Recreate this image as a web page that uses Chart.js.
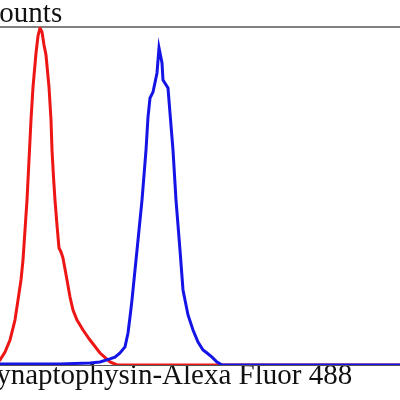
<!DOCTYPE html>
<html>
<head>
<meta charset="utf-8">
<title>Synaptophysin flow histogram</title>
<script src="https://cdn.jsdelivr.net/npm/chart.js@4.4.0/dist/chart.umd.min.js"></script>
<style>
    html, body { margin: 0; padding: 0; background: #fff; overflow: hidden; }
    #wrap { position: absolute; left: -20px; top: 0; width: 420px; height: 400px; }
</style>
</head>
<body>
<div id="wrap"><canvas id="histogram-chart"></canvas></div>
<script>
// --- Data (fluorescence channel vs counts) ---
const yAxisLabel = 'Counts';
const xAxisLabel = 'Synaptophysin-Alexa Fluor 488';

// isotype / negative control (red)
const redX = [0, 7, 10, 12.5, 15, 17.5, 19, 20.5, 21.5, 23.5, 24.5, 25.5, 26.5, 28, 29, 30,
    31, 32, 33, 34.5, 35.5, 36, 36.75, 37.5, 38.5, 39.5, 40.5, 41.5, 43.5, 45, 46.5, 48.5,
    51.5, 55, 60, 65, 68.5, 90, 130, 170, 210];
const redCounts = [0, 0, 3.0, 7.7, 14.8, 26.6, 38.5, 50.3, 62.1, 97.6, 121.3, 145.0, 164.5, 184.6, 194.7, 199.4,
    197.0, 189.3, 183.4, 164.5, 145.0, 127.2, 111.2, 97.6, 82.8, 69.2, 66.9, 63.3, 50.3, 40.2, 32.5, 26.6,
    20.7, 14.8, 7.1, 1.8, 0, 0, 0, 0, 0];

// Synaptophysin stained (blue)
const blueX = [0, 40, 55, 60, 65, 67.5, 70, 72.5, 74, 75, 76, 78.5, 81, 83, 84, 85, 86.5, 88.5, 89.5,
    91, 91.5, 94, 95, 96.5, 98, 100, 101.5, 102.5, 104, 106.5, 109, 111.5, 113.5, 116, 118.5, 121,
    150, 180, 210];
const blueCounts = [0.6, 0.6, 1.2, 1.8, 3.6, 4.7, 7.1, 10.7, 18.9, 28.4, 38.5, 68.0, 97.6, 127.2, 146.7, 158.0, 161.5, 172.8, 187.6,
    178.7, 168.6, 163.9, 149.1, 127.2, 97.6, 68.0, 44.4, 38.5, 29.6, 20.7, 13.6, 8.9, 7.1, 4.7, 1.8, 0,
    0, 0, 0];

const toPoints = (xs, ys) => xs.map((x, i) => ({ x: x, y: ys[i] }));

document.addEventListener('DOMContentLoaded', () => {
    const ctx = document.getElementById('histogram-chart').getContext('2d');
    const serif = { family: '"Liberation Serif", "Times New Roman", serif', size: 29, weight: 'normal', lineHeight: 1 };

    new Chart(ctx, {
        type: 'line',
        data: {
            datasets: [
                {
                    label: 'Control',
                    data: toPoints(redX, redCounts),
                    borderColor: '#ee1515',
                    borderWidth: 3,
                    pointRadius: 0,
                    tension: 0,
                    fill: false,
                    order: 1
                },
                {
                    label: 'Synaptophysin',
                    data: toPoints(blueX, blueCounts),
                    borderColor: '#1414e6',
                    borderWidth: 3,
                    pointRadius: 0,
                    tension: 0,
                    fill: false,
                    order: 0
                }
            ]
        },
        options: {
            responsive: true,
            maintainAspectRatio: false,
            animation: false,
            layout: { padding: { top: 0, left: 0, right: 0, bottom: 9 } },
            plugins: {
                legend: { display: false },
                tooltip: { enabled: false },
                title: {
                    display: true,
                    text: yAxisLabel,
                    align: 'start',
                    color: '#111',
                    font: serif,
                    padding: { top: 0, bottom: -2 }
                }
            },
            scales: {
                x: {
                    type: 'linear',
                    position: 'bottom',
                    min: 0,
                    max: 210,
                    ticks: { display: false },
                    grid: { display: false, drawTicks: false },
                    border: { display: true, color: '#555', width: 1 },
                    title: {
                        display: true,
                        text: xAxisLabel,
                        align: 'start',
                        color: '#111',
                        font: serif,
                        padding: { top: -3, bottom: 0 }
                    }
                },
                xTop: {
                    type: 'linear',
                    position: 'top',
                    min: 0,
                    max: 210,
                    ticks: { display: false },
                    grid: { display: false, drawTicks: false },
                    border: { display: true, color: '#808080', width: 2 }
                },
                y: {
                    display: false,
                    min: 0,
                    max: 200
                }
            }
        }
    });
});
</script>
</body>
</html>
